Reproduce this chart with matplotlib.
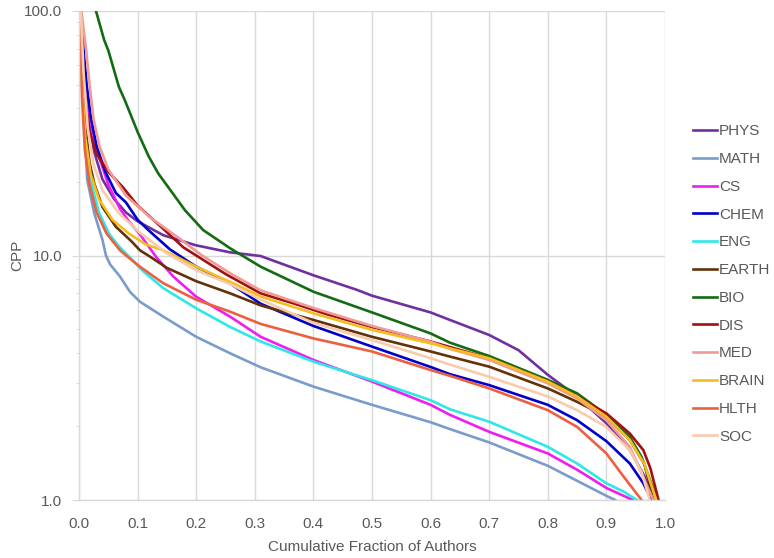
import matplotlib
matplotlib.use('Agg')
import matplotlib.pyplot as plt
from matplotlib.ticker import LogLocator, FuncFormatter, NullFormatter, MultipleLocator

plt.rcParams['font.family'] = ['Liberation Sans', 'DejaVu Sans']

# cumulative fraction of authors (x) vs CPP (y)
phys_x = [0.003, 0.008, 0.015, 0.025, 0.04, 0.06, 0.08, 0.1, 0.144, 0.2, 0.258, 0.31, 0.4, 0.474, 0.5, 0.6, 0.633, 0.7, 0.75, 0.8, 0.85, 0.9, 0.94, 0.965, 0.98]
phys_y = [100, 60, 38, 27, 20.5, 17, 15, 13.8, 12.1, 11.0, 10.3, 9.95, 8.3, 7.24, 6.85, 5.85, 5.45, 4.73, 4.1, 3.25, 2.65, 2.06, 1.6, 1.25, 1.0]

math_x = [0.001, 0.003, 0.0085, 0.014, 0.026, 0.04, 0.046, 0.053, 0.07, 0.087, 0.104, 0.144, 0.2, 0.258, 0.31, 0.4, 0.5, 0.6, 0.633, 0.7, 0.8, 0.9, 0.915]
math_y = [100, 76, 40.6, 20.4, 14.9, 11.6, 10.0, 9.2, 8.2, 7.1, 6.47, 5.62, 4.65, 3.98, 3.49, 2.91, 2.45, 2.08, 1.95, 1.72, 1.38, 1.04, 1.0]

cs_x = [0.003, 0.008, 0.015, 0.025, 0.035, 0.05, 0.07, 0.085, 0.104, 0.1325, 0.161, 0.2, 0.258, 0.31, 0.4, 0.5, 0.6, 0.633, 0.7, 0.8, 0.85, 0.9, 0.945]
cs_y = [100, 65, 42, 30, 25, 19.5, 15.5, 13.8, 12.2, 9.8, 8.2, 6.78, 5.62, 4.65, 3.74, 3.05, 2.45, 2.23, 1.90, 1.55, 1.33, 1.12, 1.0]

chem_x = [0.003, 0.008, 0.013, 0.02, 0.03, 0.045, 0.063, 0.08, 0.1, 0.12, 0.155, 0.2, 0.258, 0.31, 0.4, 0.5, 0.6, 0.633, 0.7, 0.8, 0.85, 0.9, 0.94, 0.963, 0.977]
chem_y = [100, 68, 50, 37, 28, 22, 18, 16.5, 14, 12.6, 10.6, 9.0, 7.68, 6.35, 5.15, 4.24, 3.5, 3.27, 2.95, 2.45, 2.12, 1.74, 1.41, 1.17, 1.0]

eng_x = [0.002, 0.005, 0.01, 0.018, 0.034, 0.051, 0.068, 0.087, 0.11, 0.144, 0.2, 0.258, 0.31, 0.4, 0.5, 0.6, 0.633, 0.7, 0.8, 0.85, 0.9, 0.93, 0.952]
eng_y = [100, 50, 30, 21, 15, 12.3, 10.9, 9.8, 8.6, 7.35, 6.08, 5.1, 4.45, 3.68, 3.09, 2.56, 2.35, 2.09, 1.65, 1.41, 1.17, 1.08, 1.0]

earth_x = [0.002, 0.005, 0.01, 0.018, 0.026, 0.04, 0.063, 0.09, 0.104, 0.121, 0.15, 0.2, 0.258, 0.31, 0.4, 0.5, 0.6, 0.633, 0.7, 0.8, 0.85, 0.9, 0.94, 0.965, 0.98]
earth_y = [100, 55, 35, 24, 19.7, 15.8, 13.1, 11.4, 10.5, 9.9, 8.9, 7.85, 7.0, 6.25, 5.45, 4.65, 4.05, 3.86, 3.51, 2.86, 2.52, 2.19, 1.76, 1.4, 1.0]

bio_x = [0.029, 0.043, 0.05, 0.068, 0.0785, 0.1, 0.119, 0.135, 0.181, 0.212, 0.258, 0.31, 0.4, 0.5, 0.6, 0.633, 0.7, 0.8, 0.85, 0.9, 0.94, 0.96, 0.987]
bio_y = [100, 76, 69, 49, 43, 32, 25.4, 21.7, 15.3, 12.7, 10.7, 9.0, 7.11, 5.85, 4.8, 4.4, 3.88, 3.1, 2.73, 2.23, 1.81, 1.5, 1.0]

dis_x = [0.002, 0.006, 0.012, 0.018, 0.03, 0.05, 0.075, 0.1, 0.14, 0.178, 0.25, 0.31, 0.366, 0.423, 0.5, 0.6, 0.7, 0.8, 0.85, 0.9, 0.94, 0.963, 0.975, 0.989]
dis_y = [100, 60, 40, 32, 26, 22, 19, 16, 13.1, 10.8, 8.4, 7.0, 6.37, 5.75, 5.1, 4.45, 3.8, 3.05, 2.65, 2.26, 1.87, 1.6, 1.35, 1.0]

med_x = [0.004, 0.012, 0.018, 0.025, 0.035, 0.05, 0.08, 0.12, 0.17, 0.21, 0.26, 0.31, 0.4, 0.5, 0.6, 0.633, 0.7, 0.8, 0.85, 0.9, 0.94, 0.98]
med_y = [100, 70, 50, 36, 28, 22.5, 17.6, 14.4, 11.8, 10.0, 8.4, 7.2, 6.1, 5.15, 4.44, 4.15, 3.74, 3.0, 2.6, 2.12, 1.65, 1.0]

brain_x = [0.002, 0.005, 0.011, 0.02, 0.034, 0.057, 0.085, 0.114, 0.144, 0.2, 0.258, 0.31, 0.4, 0.5, 0.6, 0.633, 0.7, 0.8, 0.85, 0.9, 0.94, 0.965, 0.985]
brain_y = [100, 50, 30, 21.5, 17, 14, 12.3, 11.1, 10.5, 9.0, 7.8, 6.8, 5.8, 4.96, 4.37, 4.17, 3.80, 3.05, 2.65, 2.19, 1.76, 1.4, 1.0]

hlth_x = [0.002, 0.005, 0.01, 0.018, 0.03, 0.047, 0.07, 0.087, 0.104, 0.144, 0.2, 0.258, 0.31, 0.4, 0.5, 0.6, 0.633, 0.7, 0.8, 0.85, 0.9, 0.929, 0.96]
hlth_y = [100, 45, 27, 19.5, 15, 12.3, 10.5, 9.7, 9.0, 7.7, 6.59, 5.89, 5.25, 4.58, 4.05, 3.4, 3.22, 2.86, 2.33, 1.99, 1.55, 1.25, 1.0]

soc_x = [0.003, 0.008, 0.015, 0.025, 0.04, 0.068, 0.102, 0.15, 0.2, 0.26, 0.31, 0.4, 0.5, 0.6, 0.633, 0.7, 0.8, 0.85, 0.9, 0.94, 0.96, 0.974]
soc_y = [100, 55, 33, 23.5, 18.5, 14.9, 12.5, 10.2, 8.7, 7.6, 6.6, 5.3, 4.51, 3.80, 3.58, 3.19, 2.65, 2.33, 1.99, 1.6, 1.3, 1.0]

series = [
    ('PHYS', phys_x, phys_y, '#7030A0'),
    ('MATH', math_x, math_y, '#7A9CCB'),
    ('CS', cs_x, cs_y, '#F01DF0'),
    ('CHEM', chem_x, chem_y, '#0000CC'),
    ('ENG', eng_x, eng_y, '#2EE8E8'),
    ('EARTH', earth_x, earth_y, '#633209'),
    ('BIO', bio_x, bio_y, '#136B13'),
    ('DIS', dis_x, dis_y, '#A31010'),
    ('MED', med_x, med_y, '#EF9A96'),
    ('BRAIN', brain_x, brain_y, '#F5BD1F'),
    ('HLTH', hlth_x, hlth_y, '#EC6040'),
    ('SOC', soc_x, soc_y, '#F8CBAD'),
]

grey = '#595959'
light = '#D9D9D9'
fs = 11

fig = plt.figure(figsize=(7.74, 5.58), dpi=100)
ax = fig.add_axes([79 / 774, 1 - 500 / 558, 586 / 774, 489 / 558])

for name, xs, ys, col in series:
    ax.plot(xs, ys, color=col, lw=1.9, label=name, solid_joinstyle='round')

ax.set_yscale('log')
ax.set_xlim(0, 1)
ax.set_ylim(1, 100)
ax.xaxis.set_major_locator(MultipleLocator(0.1))
ax.xaxis.set_major_formatter(FuncFormatter(lambda v, p: f'{v:.1f}'))
ax.yaxis.set_major_locator(LogLocator(base=10, numticks=5))
ax.yaxis.set_major_formatter(FuncFormatter(lambda v, p: f'{v:.1f}'))
ax.yaxis.set_minor_locator(LogLocator(base=10, subs=range(2, 10), numticks=20))
ax.yaxis.set_minor_formatter(NullFormatter())

ax.grid(True, which='major', color=light, lw=1)
ax.set_axisbelow(True)
for s in ['top', 'right']:
    ax.spines[s].set_visible(False)
for s in ['left', 'bottom']:
    ax.spines[s].set_color(light)
    ax.spines[s].set_linewidth(1)

ax.tick_params(axis='x', length=0, pad=12.5, labelsize=fs, labelcolor=grey)
ax.tick_params(axis='y', which='major', length=5, color=light, pad=7, labelsize=fs, labelcolor=grey)
ax.tick_params(axis='y', which='minor', length=2.5, color=light)

ax.set_xlabel('Cumulative Fraction of Authors', fontsize=fs, color=grey, labelpad=6)
ax.set_ylabel('CPP', fontsize=fs, color=grey, labelpad=0)

fig.legend(loc='center left', bbox_to_anchor=(693 / 774, 1 - 284 / 558), frameon=False,
           fontsize=fs, labelcolor=grey, handlelength=1.55, handletextpad=0.15,
           labelspacing=0.9, borderpad=0, borderaxespad=0)

fig.savefig('out.png', dpi=100)
